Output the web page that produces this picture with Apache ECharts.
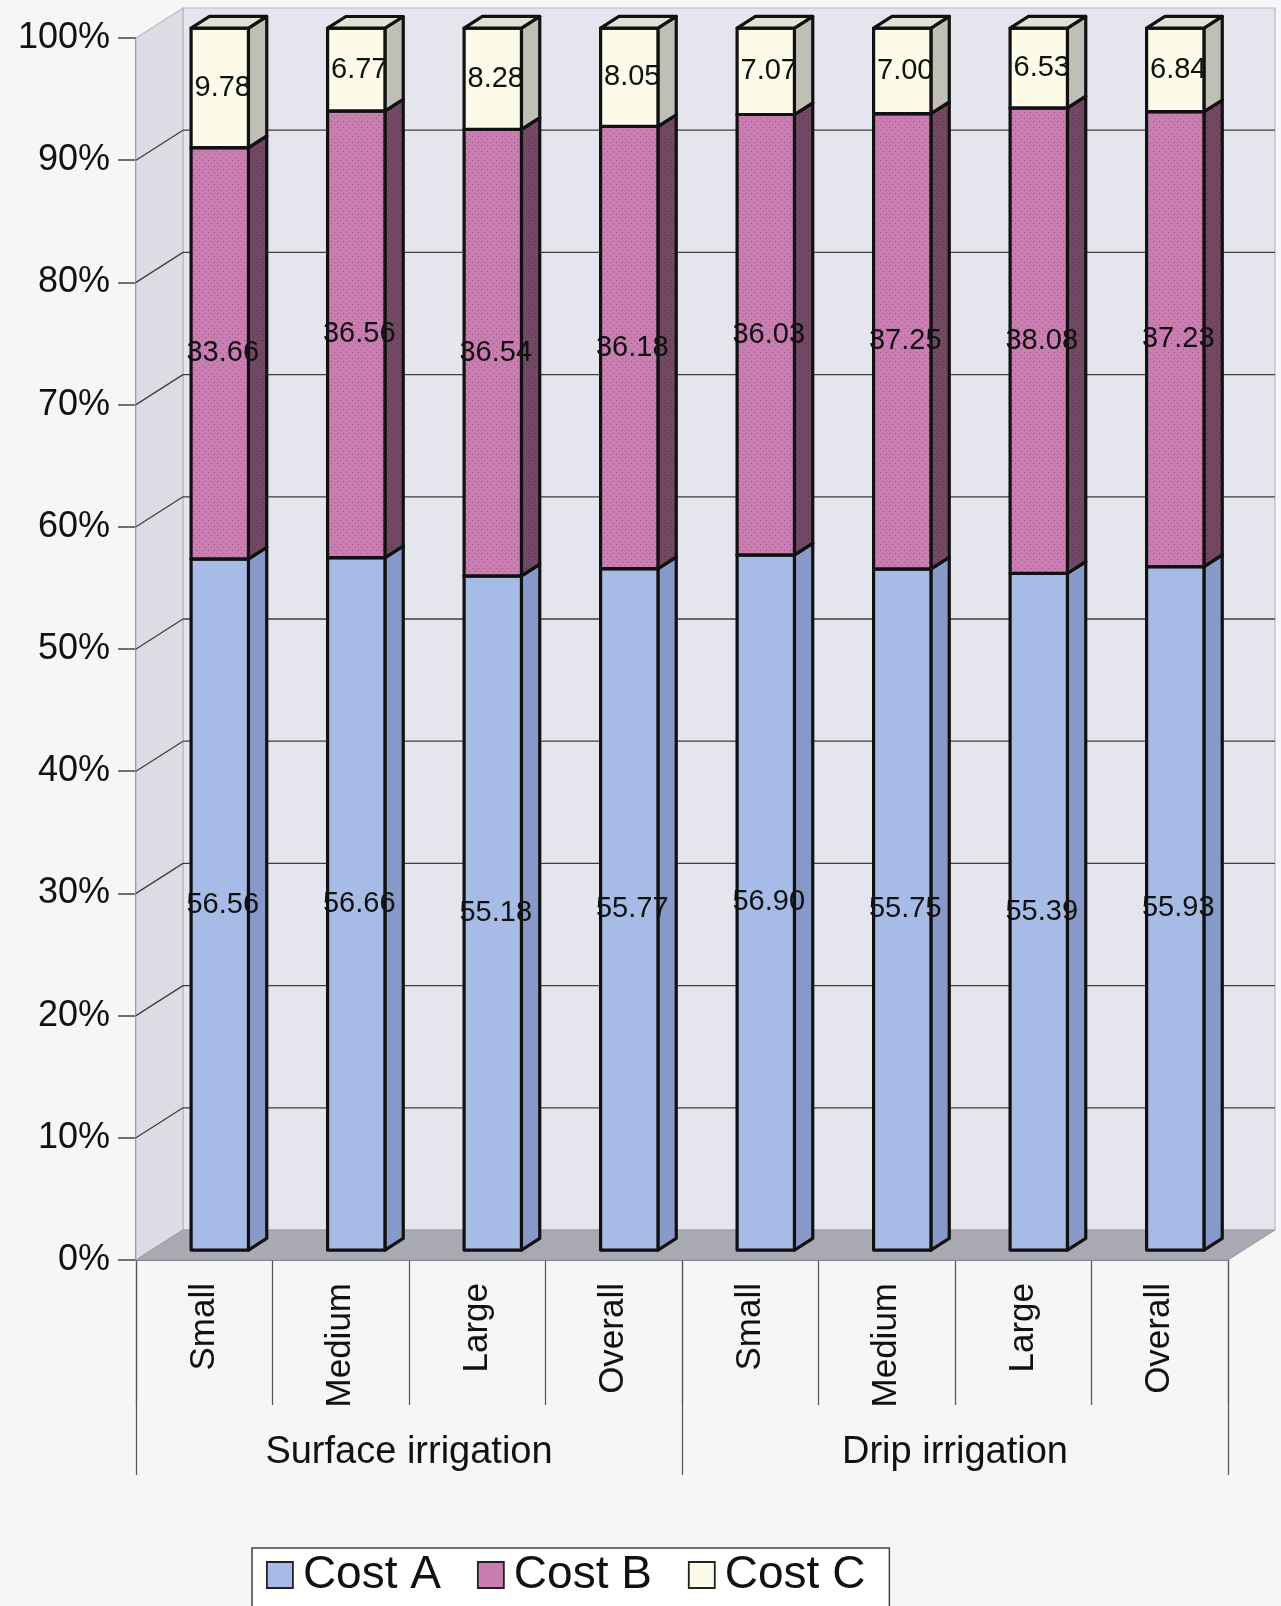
<!DOCTYPE html>
<html>
<head>
<meta charset="utf-8">
<script src="https://cdn.jsdelivr.net/npm/echarts@6/dist/echarts.min.js"></script>
<style>
  html, body { margin: 0; padding: 0; background: #f6f6f6; }
  #chart { width: 1281px; height: 1606px; }
</style>
</head>
<body>
<div id="chart"></div>
<script>
// Share of cost components (%) by farm size, for two irrigation systems
const categories = ['Small', 'Medium', 'Large', 'Overall', 'Small', 'Medium', 'Large', 'Overall'];
const groups = ['Surface irrigation', 'Drip irrigation'];
const costA = [56.56, 56.66, 55.18, 55.77, 56.90, 55.75, 55.39, 55.93];
const costB = [33.66, 36.56, 36.54, 36.18, 36.03, 37.25, 38.08, 37.23];
const costC = [9.78, 6.77, 8.28, 8.05, 7.07, 7.00, 6.53, 6.84];
const yTicks = [0, 10, 20, 30, 40, 50, 60, 70, 80, 90, 100];

const FONT = '"Liberation Sans", Arial, sans-serif';

// Oblique projection of the depth axis
const DX = 47, DY = -30;       // full depth of the floor
const F0 = 0.33, F1 = 0.72;    // depth span occupied by the bar boxes
const BAR_FRAC = 0.42;         // front face width / category width

// Small dotted fill for Cost B
function dotPattern(base, dot) {
  const c = document.createElement('canvas');
  c.width = 6; c.height = 6;
  const g = c.getContext('2d');
  g.fillStyle = base; g.fillRect(0, 0, 6, 6);
  g.fillStyle = dot;
  g.fillRect(1, 1, 1, 1);
  g.fillRect(4, 4, 1, 1);
  return { image: c, repeat: 'repeat' };
}

const styles = {
  'Cost A': { front: '#a6bbe6', side: '#8799c9', top: '#c3d2f0', legend: '#a6bbe6' },
  'Cost B': { front: dotPattern('#c97db1', '#9b5a89'), side: dotPattern('#734862', '#55324a'), top: '#d9a0c6', legend: '#c97db1' },
  'Cost C': { front: '#fbfbe8', side: '#bfbfb6', top: '#e2e2d2', legend: '#fbfbe8' }
};

// stacked [index, low, high, value]
function stackData(values, bases) {
  return values.map((v, i) => [i, bases[i], bases[i] + v, v]);
}
const baseA = costA.map(() => 0);
const baseB = costA.slice();
const baseC = costA.map((a, i) => a + costB[i]);

function boxRenderer(st) {
  return function (params, api) {
    const i = api.value(0), lo = api.value(1), hi = api.value(2), val = api.value(3);
    const pLo = api.coord([i, lo]);
    const pHi = api.coord([i, hi]);
    const bw = api.size([1, 0])[0] * BAR_FRAC;
    const ox = DX * F0, oy = DY * F0;
    const sx = DX * (F1 - F0), sy = DY * (F1 - F0);
    const x0 = pLo[0] - bw / 2 + ox, x1 = x0 + bw;
    const yb = pLo[1] + oy, yt = pHi[1] + oy;
    const line = { stroke: '#111', lineWidth: 3.2, lineJoin: 'round' };
    return {
      type: 'group',
      children: [
        { type: 'polygon', shape: { points: [[x1, yb], [x1 + sx, yb + sy], [x1 + sx, yt + sy], [x1, yt]] },
          style: Object.assign({ fill: st.side }, line) },
        { type: 'rect', shape: { x: x0, y: yt, width: bw, height: yb - yt },
          style: Object.assign({ fill: st.front }, line) },
        { type: 'polygon', shape: { points: [[x0, yt], [x1, yt], [x1 + sx, yt + sy], [x0 + sx, yt + sy]] },
          style: Object.assign({ fill: st.top }, line) },
        { type: 'text', z2: 10,
          style: { text: val.toFixed(2), x: (x0 + x1) / 2 + 3, y: (yt + yb) / 2,
                   align: 'center', verticalAlign: 'middle',
                   font: '29px ' + FONT, fill: '#111' } }
      ]
    };
  };
}

// Walls, floor and gridlines of the 3D frame
function frameRenderer(params, api) {
  const cs = params.coordSys;
  const x0 = cs.x, x1 = cs.x + cs.width;
  const y0 = api.coord([0, 0])[1];
  const y100 = api.coord([0, 100])[1];
  const children = [
    { type: 'rect', shape: { x: x0 + DX, y: y100 + DY, width: x1 - x0, height: y0 - y100 },
      style: { fill: '#e5e5ed', stroke: '#b9b9c2', lineWidth: 1.2 } },
    { type: 'polygon', shape: { points: [[x0, y0], [x0 + DX, y0 + DY], [x0 + DX, y100 + DY], [x0, y100]] },
      style: { fill: '#dcdce4', stroke: '#b9b9c2', lineWidth: 1.2 } },
    { type: 'polygon', shape: { points: [[x0, y0], [x1, y0], [x1 + DX, y0 + DY], [x0 + DX, y0 + DY]] },
      style: { fill: '#a9a9b3', stroke: '#9a9aa4', lineWidth: 1 } }
  ];
  yTicks.forEach(v => {
    if (v === 0 || v === 100) return;
    const y = api.coord([0, v])[1];
    children.push({ type: 'line', shape: { x1: x0, y1: y, x2: x0 + DX, y2: y + DY },
      style: { stroke: '#3e3e3e', lineWidth: 1.3 } });
    children.push({ type: 'line', shape: { x1: x0 + DX, y1: y + DY, x2: x1 + DX, y2: y + DY },
      style: { stroke: '#3e3e3e', lineWidth: 1.3 } });
  });
  return { type: 'group', children };
}

const chart = echarts.init(document.getElementById('chart'), null, { renderer: 'canvas' });

const seriesDefs = [
  { name: 'Cost A', data: stackData(costA, baseA) },
  { name: 'Cost B', data: stackData(costB, baseB) },
  { name: 'Cost C', data: stackData(costC, baseC) }
];

chart.setOption({
  backgroundColor: '#f6f6f6',
  animation: false,
  textStyle: { fontFamily: FONT },
  grid: { left: 136, right: 53, top: 38, bottom: 346 },
  legend: {
    left: 252, top: 1548,
    orient: 'horizontal',
    itemWidth: 26, itemHeight: 26, itemGap: 36,
    padding: [4, 24, 20, 14],
    backgroundColor: '#ffffff',
    borderColor: '#444', borderWidth: 1.5,
    textStyle: { fontSize: 46, color: '#111', fontFamily: FONT, padding: [0, 0, 0, 5] },
    data: seriesDefs.map(s => ({
      name: s.name, icon: 'rect',
      itemStyle: { color: styles[s.name].legend, borderColor: '#222', borderWidth: 1.8 }
    }))
  },
  xAxis: [
    {
      type: 'category', data: categories, position: 'bottom',
      axisLine: { show: true, lineStyle: { color: '#444', width: 1.5 } },
      axisTick: { show: true, interval: 0, length: 145, lineStyle: { color: '#555', width: 1.2 } },
      axisLabel: { interval: 0, rotate: 90, margin: 23, fontSize: 35, color: '#111', fontFamily: FONT },
      splitLine: { show: false }
    },
    {
      type: 'category', data: groups, position: 'bottom', offset: 0,
      axisLine: { show: false },
      axisTick: { show: true, interval: 0, length: 215, lineStyle: { color: '#555', width: 1.2 } },
      axisLabel: { interval: 0, margin: 174, fontSize: 38, color: '#111', fontFamily: FONT },
      splitLine: { show: false }
    }
  ],
  yAxis: {
    type: 'value', min: 0, max: 100, interval: 10,
    axisLine: { show: true, lineStyle: { color: '#444', width: 1.5 } },
    axisTick: { show: true, length: 18, lineStyle: { color: '#444', width: 1.5 } },
    axisLabel: { margin: 26, fontSize: 36, color: '#111', fontFamily: FONT, formatter: '{value}%' },
    splitLine: { show: false }
  },
  series: [
    {
      type: 'custom', name: 'frame', silent: true, z: 1,
      xAxisIndex: 0, yAxisIndex: 0,
      renderItem: frameRenderer, data: [[0, 0]], clip: false
    }
  ].concat(seriesDefs.map((s, k) => ({
    type: 'custom', name: s.name, z: 3 + k,
    xAxisIndex: 0, yAxisIndex: 0,
    itemStyle: { color: styles[s.name].legend },
    renderItem: boxRenderer(styles[s.name]),
    encode: { x: 0, y: [1, 2] },
    data: s.data, clip: false
  })))
});
</script>
</body>
</html>
